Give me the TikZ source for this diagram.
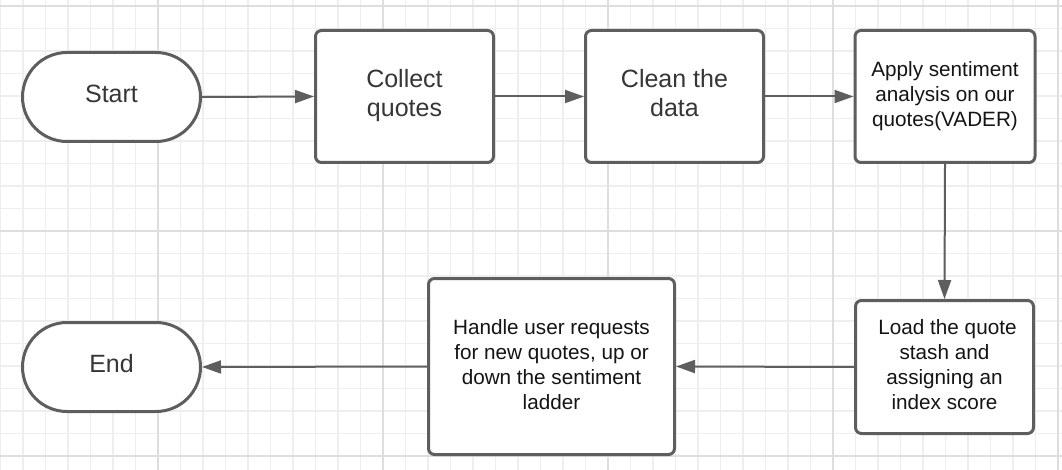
\documentclass[tikz,border=0pt]{standalone}
\usepackage{fontspec}
\setmainfont{Liberation Sans}
\usetikzlibrary{arrows.meta}
\definecolor{gridminor}{HTML}{EEEEEE}
\definecolor{gridmajor}{HTML}{DEDEDE}
\definecolor{edge}{HTML}{5E5E5E}
\definecolor{txtgray}{HTML}{363636}
\definecolor{txtdark}{HTML}{141414}
\tikzset{
  procbox/.style={draw=edge, line width=3pt, fill=white, rounded corners=6pt,
    minimum width=178pt, minimum height=132pt, align=center, inner sep=0pt},
  bigtext/.style={font=\fontsize{25}{29}\selectfont, text=txtgray},
  smalltext/.style={font=\fontsize{20.7}{25}\selectfont, text=txtdark},
  termbox/.style={draw=edge, line width=3pt, fill=white, rounded corners=44.5pt,
    minimum width=178pt, minimum height=89pt, align=center, inner sep=0pt},
  flow/.style={draw=edge, line width=2pt, -{Triangle[length=19pt,width=13pt]}}
}
\begin{document}
\begin{tikzpicture}[x=1pt,y=-1pt]
\useasboundingbox (0,0) rectangle (1062,470);
\fill[white] (0,0) rectangle (1062,470);
% grid
\foreach \k in {0,...,47} {
  \draw[gridminor, line width=1.5pt] ({0.5+22.5*\k},0) -- ({0.5+22.5*\k},470);
}
\foreach \k in {0,...,20} {
  \draw[gridminor, line width=1.5pt] (0,{6+22.5*\k}) -- (1062,{6+22.5*\k});
}
\foreach \x in {158,383,608,833,1058} {
  \draw[gridmajor, line width=2pt] (\x,0) -- (\x,470);
}
\foreach \y in {6,231,456} {
  \draw[gridmajor, line width=2pt] (0,\y) -- (1062,\y);
}
% nodes
\node[termbox, bigtext] (start) at (111.5,97) {\strut Start};
\node[procbox, bigtext] (collect) at (404.5,96.5) {\strut Collect\\\strut quotes};
\node[procbox, bigtext] (clean) at (674.5,96.5) {\strut Clean the\\\strut data};
\node[procbox, smalltext, minimum width=180pt] (apply) at (945,96.5) {\strut Apply sentiment\\\strut analysis on our\\\strut quotes(VADER)};
\node[procbox, smalltext, minimum height=133pt] (load) at (944.5,367) {\strut\hspace*{6pt}Load the quote\\\strut stash and\\\strut assigning an\\\strut index score};
\node[procbox, smalltext, minimum width=246pt, minimum height=176pt] (handle) at (551.5,366.5) {\strut Handle user requests\\\strut for new quotes, up or\\\strut down the sentiment\\\strut ladder};
\node[termbox, bigtext] (end) at (111.5,367) {\strut End};
% connectors
\draw[flow] (start.east) -- (collect.west);
\draw[flow] (collect.east) -- (clean.west);
\draw[flow] (clean.east) -- (apply.west);
\draw[flow] (apply.south) -- (load.north);
\draw[flow] (load.west) -- (handle.east);
\draw[flow] (handle.west) -- (end.east);
\end{tikzpicture}
\end{document}
